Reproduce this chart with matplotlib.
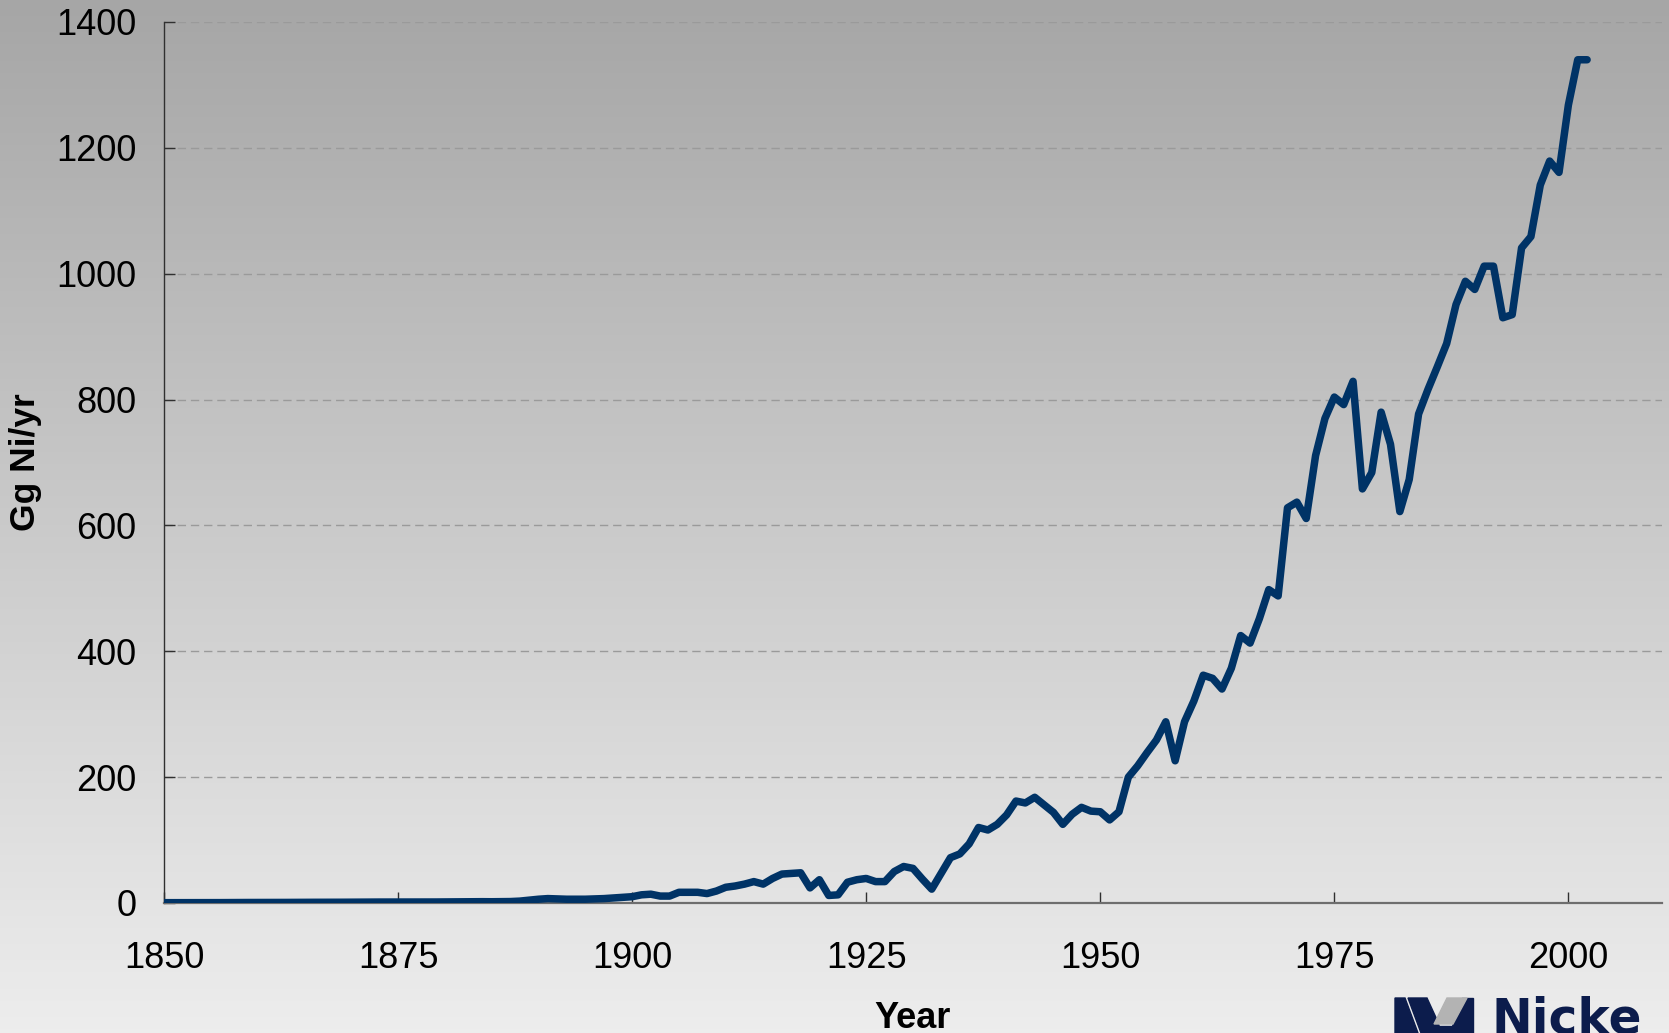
import numpy as np
import matplotlib
matplotlib.use("Agg")
import matplotlib.pyplot as plt
from matplotlib.patches import Polygon

plt.rcParams['font.family'] = ['Liberation Sans', 'DejaVu Sans']

# world nickel production, Gg Ni per year
years = np.arange(1850, 2003)
prod_1850s = [0.5, 0.5, 0.5, 0.5, 0.6, 0.6, 0.6, 0.7, 0.7, 0.8]
prod_1860s = [0.8, 0.8, 0.9, 0.9, 1.0, 1.0, 1.1, 1.1, 1.2, 1.2]
prod_1870s = [1.3, 1.3, 1.4, 1.5, 1.5, 1.6, 1.6, 1.6, 1.5, 1.6]
prod_1880s = [1.7, 1.8, 1.9, 2.0, 2.1, 2.0, 2.2, 2.3, 3.0, 4.5]
prod_1890s = [6.0, 7.0, 6.5, 6.0, 6.0, 6.0, 6.5, 7.0, 8.0, 9.0]
prod_1900s = [10, 13, 14, 11, 11, 17, 17, 17, 15, 19]
prod_1910s = [25, 27, 30, 34, 30, 39, 46, 47, 48, 24]
prod_1920s = [37, 12, 13, 33, 37, 39, 34, 34, 50, 58]
prod_1930s = [55, 38, 22, 47, 72, 78, 94, 120, 116, 125]
prod_1940s = [140, 162, 159, 168, 156, 144, 125, 141, 152, 146]
prod_1950s = [145, 132, 145, 200, 218, 239, 259, 288, 226, 288]
prod_1960s = [321, 362, 357, 340, 373, 425, 413, 452, 498, 488]
prod_1970s = [628, 637, 611, 711, 770, 804, 792, 829, 658, 684]
prod_1980s = [780, 729, 622, 673, 777, 816, 852, 889, 951, 988]
prod_1990s = [975, 1012, 1012, 930, 935, 1041, 1059, 1141, 1179, 1161]
prod_2000s = [1268, 1340, 1340]

production = np.array(prod_1850s + prod_1860s + prod_1870s + prod_1880s + prod_1890s
                      + prod_1900s + prod_1910s + prod_1920s + prod_1930s + prod_1940s
                      + prod_1950s + prod_1960s + prod_1970s + prod_1980s + prod_1990s
                      + prod_2000s)

x_ticks = [1850, 1875, 1900, 1925, 1950, 1975, 2000]
y_ticks = [0, 200, 400, 600, 800, 1000, 1200, 1400]

W, H = 1669, 1033
fig = plt.figure(figsize=(W / 100, H / 100), dpi=100)

# grey vertical gradient behind everything
bg = fig.add_axes([0, 0, 1, 1], zorder=-10)
grad = np.linspace(166, 237, 256).reshape(-1, 1) / 255.0
bg.imshow(np.dstack([grad, grad, grad]), aspect='auto', extent=[0, 1, 0, 1], origin='upper')
bg.set_axis_off()

ax = fig.add_axes([164 / W, 1 - 903 / H, (1662 - 164) / W, (903 - 22) / H])
ax.patch.set_alpha(0)

ax.plot(years, production, color='#003366', lw=5.4, solid_capstyle='round',
        solid_joinstyle='round', zorder=3)

ax.set_xlim(1850, 2010)
ax.set_ylim(0, 1400)
ax.set_xticks(x_ticks)
ax.set_yticks(y_ticks)
ax.yaxis.grid(True, color='#9a9a9a', lw=1.0, linestyle=(0, (6, 3.5)))
ax.set_axisbelow(True)

for side in ['top', 'right']:
    ax.spines[side].set_visible(False)
ax.spines['left'].set_color('#303030')
ax.spines['left'].set_linewidth(1.0)
ax.spines['bottom'].set_color('#6e6e6e')
ax.spines['bottom'].set_linewidth(1.6)

ax.tick_params(axis='both', direction='in', length=8, width=1, color='#303030',
               labelsize=26, labelcolor='black')
ax.tick_params(axis='y', pad=20)
ax.tick_params(axis='x', pad=27)

fig.text(26 / W, 1 - 462 / H, 'Gg Ni/yr', rotation=90, ha='center', va='center',
         fontsize=25.5, fontweight='bold')
fig.text(913 / W, 1 - 1028 / H, 'Year', ha='center', va='baseline',
         fontsize=26, fontweight='bold')


# logo in the bottom-right corner (cut off by the figure edge)
def px(pts):
    return [(x / W, 1 - y / H) for x, y in pts]


navy = '#0c1c4c'
logo_shapes = [
    ([(1395, 998), (1405, 998), (1418, 1033), (1395, 1033)], navy),
    ([(1408, 998), (1427, 998), (1438, 1022), (1441, 1033), (1421, 1033)], navy),
    ([(1462, 998), (1473, 998), (1473, 1033), (1436, 1033), (1436, 1026), (1452, 1026)], navy),
    ([(1447, 998), (1467, 998), (1453, 1024), (1434, 1024)], '#b3b3b3'),
]
for pts, col in logo_shapes:
    fig.patches.append(Polygon(px(pts), closed=True, color=col, transform=fig.transFigure))
fig.text(1491 / W, 0.0, 'Nicke', ha='left', va='baseline', fontsize=35,
         fontweight='bold', color=navy, family=['DejaVu Sans'])

fig.savefig('out.png', dpi=100)
